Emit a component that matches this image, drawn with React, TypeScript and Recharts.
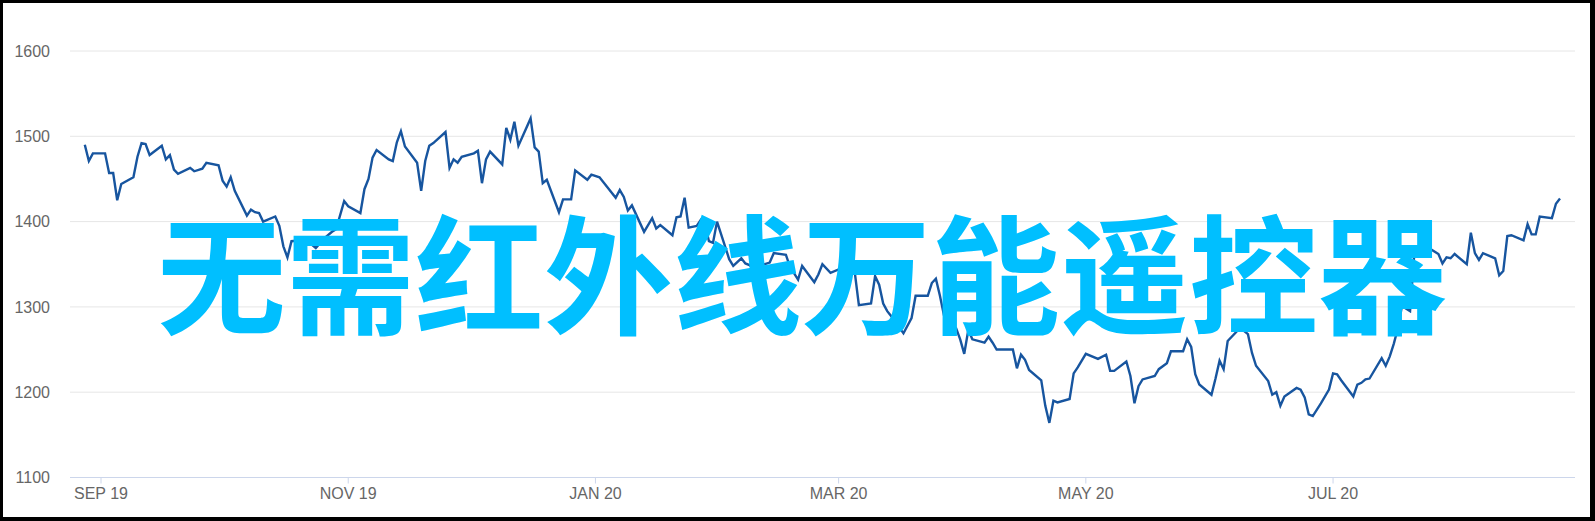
import React from "react";
import { LineChart, Line, XAxis, YAxis, CartesianGrid } from "recharts";

// days counted from 1 Sep 2019
const tradingDays = [
  -4, -3, -2, 1, 2, 3, 4, 5, 8, 9,
  10, 11, 12, 15, 16, 17, 18, 19, 22, 23,
  25, 26, 29, 30, 31, 32, 33, 36, 37, 38,
  39, 40, 43, 44, 45, 46, 47, 49, 50, 52,
  53, 55, 57, 58, 60, 61, 64, 65, 66, 67,
  68, 71, 72, 73, 74, 75, 78, 79, 80, 81,
  82, 85, 86, 87, 88, 89, 92, 93, 94, 95,
  96, 99, 100, 101, 102, 103, 106, 107, 108, 109,
  110, 113, 114, 116, 117, 120, 121, 123, 127, 128,
  129, 130, 131, 134, 136, 137, 138, 141, 142, 143,
  144, 145, 147, 148, 149, 150, 151, 152, 155, 156,
  158, 159, 160, 161, 163, 165, 166, 169, 170, 172,
  173, 176, 177, 178, 180, 182, 184, 186, 187, 190,
  191, 192, 193, 194, 195, 198, 200, 201, 204, 205,
  206, 207, 208, 209, 211, 212, 213, 214, 215, 218,
  219, 220, 221, 225, 226, 227, 228, 229, 232, 233,
  234, 235, 236, 239, 240, 241, 243, 246, 248, 249,
  250, 253, 254, 255, 256, 257, 260, 261, 263, 264,
  267, 268, 269, 270, 271, 274, 275, 276, 277, 278,
  281, 282, 283, 284, 285, 288, 289, 290, 291, 292,
  295, 296, 297, 298, 299, 301, 303, 304, 305, 306,
  309, 310, 311, 312, 313, 316, 317, 318, 319, 320,
  321, 323, 324, 326, 328, 330, 331, 332, 333, 334,
  337, 338, 339, 340, 341, 344, 345, 346, 347, 348,
  351, 352, 353, 354, 355, 358, 359, 360,
];

const closes = [
  1490, 1471, 1480, 1480, 1457, 1457, 1425, 1444, 1452, 1476,
  1492, 1491, 1478, 1489, 1473, 1478, 1461, 1456, 1463, 1459,
  1462, 1469, 1466, 1448, 1441, 1452, 1436, 1407, 1414, 1411,
  1410, 1400, 1406, 1395, 1371, 1358, 1377, 1378, 1376, 1373,
  1369, 1380, 1388, 1391, 1424, 1418, 1410, 1438, 1450, 1475,
  1484, 1473, 1471, 1493, 1506, 1488, 1469, 1436, 1471, 1489,
  1492, 1505, 1463, 1473, 1469, 1476, 1480, 1483, 1445, 1473,
  1482, 1467, 1510, 1496, 1517, 1489, 1521, 1487, 1482, 1445,
  1449, 1411, 1426, 1426, 1460, 1449, 1455, 1452, 1428, 1437,
  1429, 1413, 1419, 1388, 1404, 1392, 1396, 1384, 1405, 1406,
  1428, 1393, 1395, 1402, 1398, 1377, 1375, 1400, 1356, 1348,
  1357, 1351, 1349, 1345, 1349, 1352, 1363, 1361, 1347, 1332,
  1348, 1329, 1338, 1350, 1340, 1344, 1343, 1340, 1302, 1304,
  1336, 1326, 1304, 1295, 1289, 1269, 1287, 1313, 1313, 1328,
  1333, 1313, 1290, 1280, 1275, 1262, 1245, 1273, 1262, 1258,
  1265, 1258, 1250, 1250, 1228, 1244, 1238, 1226, 1214, 1184,
  1164, 1190, 1188, 1192, 1222, 1229, 1245, 1239, 1244, 1225,
  1225, 1236, 1219, 1187, 1207, 1215, 1219, 1227, 1234, 1248,
  1248, 1262, 1253, 1221, 1209, 1197, 1216, 1237, 1227, 1260,
  1275, 1272, 1268, 1246, 1231, 1213, 1197, 1200, 1184, 1195,
  1205, 1203, 1194, 1174, 1172, 1187, 1203, 1222, 1221, 1214,
  1195, 1209, 1211, 1215, 1216, 1240, 1231, 1242, 1257, 1275,
  1301, 1295, 1359, 1362, 1368, 1362, 1351, 1358, 1357, 1362,
  1350, 1387, 1363, 1355, 1363, 1357, 1337, 1342, 1383, 1384,
  1378, 1397, 1385, 1385, 1406, 1404, 1421, 1427,
];

const monthTicks = [0, 61, 122, 182, 243, 304];
const monthLabels = ["SEP 19", "NOV 19", "JAN 20", "MAR 20", "MAY 20", "JUL 20"];
const valueTicks = [1100, 1200, 1300, 1400, 1500, 1600];
const bannerText = "无需红外线万能遥控器";

const data = tradingDays.map((day, i) => ({ day, close: closes[i] }));

const axisFont = "'Liberation Sans', Arial, sans-serif";

export default function App() {
  return (
    <div style={{ position: "absolute", left: 0, top: 0, width: 1595, height: 521, background: "#fff", overflow: "hidden" }}>
      <LineChart width={1595} height={521} data={data} margin={{ top: 51, right: 20, bottom: 0, left: 0 }}>
        <CartesianGrid vertical={false} stroke="#e6e6e6" />
        <XAxis
          dataKey="day"
          type="number"
          domain={[-7.65, 363.7]}
          ticks={monthTicks}
          tickFormatter={(d: number) => monthLabels[monthTicks.indexOf(d)]}
          height={43.5}
          axisLine={{ stroke: "#ccd6eb" }}
          tickLine={{ stroke: "#ccd6eb" }}
          tickSize={6}
          tickMargin={4}
          tick={{ fontSize: 16, fill: "#666666", fontFamily: axisFont }}
        />
        <YAxis
          type="number"
          domain={[1100, 1600]}
          ticks={valueTicks}
          width={70}
          axisLine={false}
          tickLine={false}
          tickMargin={14}
          tick={{ fontSize: 16, fill: "#666666", fontFamily: axisFont }}
        />
        <Line
          type="linear"
          dataKey="close"
          stroke="#17559f"
          strokeWidth={2.4}
          dot={false}
          isAnimationActive={false}
        />
      </LineChart>
      <div
        style={{
          position: "absolute",
          left: 157,
          top: 204,
          fontSize: 129,
          fontWeight: 700,
          lineHeight: 1,
          whiteSpace: "nowrap",
          color: "#00bfff",
          fontFamily: "'Noto Sans CJK SC', sans-serif",
        }}
      >
        {bannerText}
      </div>
      <div
        style={{
          position: "absolute",
          left: 0,
          top: 0,
          width: 1595,
          height: 521,
          boxSizing: "border-box",
          borderStyle: "solid",
          borderColor: "#000",
          borderWidth: "3px 5px 4px 3px",
          pointerEvents: "none",
        }}
      />
    </div>
  );
}
